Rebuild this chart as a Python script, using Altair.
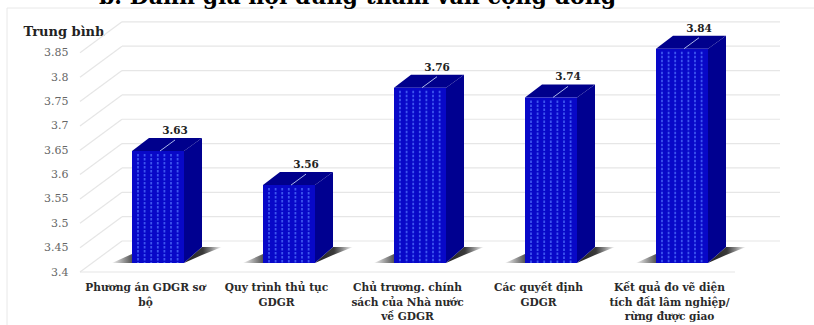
import altair as alt
import pandas as pd

# Survey averages per consultation item
categories = [
    "Phương án GDGR sơ\nbộ",
    "Quy trình thủ tục\nGDGR",
    "Chủ trương. chính\nsách của Nhà nước\nvề GDGR",
    "Các quyết định\nGDGR",
    "Kết quả đo vẽ diện\ntích đất lâm nghiệp/\nrừng được giao",
]
values = [3.63, 3.56, 3.76, 3.74, 3.84]
ticks = [3.4, 3.45, 3.5, 3.55, 3.6, 3.65, 3.7, 3.75, 3.8, 3.85]
title_text = "b. Đánh giá nội dung tham vấn cộng đồng"

BASE = 3.4
X_UNIT = 131.0   # pixels per category slot
Y_UNIT = 487.0   # pixels per unit of the mean score
SERIF = "DejaVu Serif"


def dx(p):
    return p / X_UNIT


def dy(p):
    return p / Y_UNIT


X = alt.X("x:Q", axis=None, scale=alt.Scale(domain=[0, 5], nice=False, zero=False))
Y = alt.Y(
    "y:Q",
    scale=alt.Scale(domain=[3.4, 3.9], nice=False, zero=False),
    axis=alt.Axis(
        values=ticks, domain=False, ticks=False, grid=False, format=".3~f",
        labelFont=SERIF, labelFontSize=11, labelColor="#666666", labelPadding=12,
        title="Trung bình", titleFont=SERIF, titleFontSize=13, titleFontWeight="bold",
        titleColor="#222222", titleAngle=0, titleAlign="left", titleBaseline="middle",
        titleX=-57, titleY=2.5,
    ),
)
X2 = alt.X2("x2:Q")
Y2 = alt.Y2("y2:Q")

# Oblique projection of the chart box: walls and floor
wall_diag, wall_back = [], []
for t in ticks:
    wall_diag += [{"id": t, "x": 0, "y": t}, {"id": t, "x": dx(42), "y": t + dy(31)}]
    wall_back.append({"x": dx(42), "x2": dx(700), "y": t + dy(31)})
floor = [{"x": 0, "x2": 5, "y": BASE}]

grid_color = "#e6e6e6"
diag_layer = alt.Chart(pd.DataFrame(wall_diag)).mark_line(color=grid_color, strokeWidth=1.2).encode(
    x=X, y=Y, detail="id:N"
)
back_layer = alt.Chart(pd.DataFrame(wall_back)).mark_rule(color=grid_color, strokeWidth=1.2).encode(
    x=X, x2=X2, y=Y
)
floor_layer = alt.Chart(pd.DataFrame(floor)).mark_rule(color=grid_color, strokeWidth=1.2).encode(
    x=X, x2=X2, y=Y
)

# Bar solids: front, side and top faces plus floor shadows
BAR_W = 52
front, side, top, dots, leaders, labels, cats = [], [], [], [], [], [], []
shadow_r, shadow_l = [], []
for i, (name, v) in enumerate(zip(categories, values)):
    xl = i + dx(52)
    xr = xl + dx(BAR_W)
    fy = v + dy(9)
    fb = BASE + dy(9)
    front.append({"x": xl, "x2": xr, "y": fy, "y2": fb})
    side += [
        {"b": i, "x": xr, "y": fy, "y2": fb},
        {"b": i, "x": xr + dx(18), "y": fy + dy(13), "y2": fb + dy(16)},
    ]
    top += [
        {"b": i, "x": xl, "y": fy, "y2": fy},
        {"b": i, "x": xl + dx(17), "y": fy + dy(13), "y2": fy},
        {"b": i, "x": xr, "y": fy + dy(13), "y2": fy},
        {"b": i, "x": xr + dx(18), "y": fy + dy(13), "y2": fy + dy(13)},
    ]
    shadow_r += [
        {"b": i, "x": xr, "y": fb, "y2": fb},
        {"b": i, "x": xr + dx(18), "y": fb + dy(16), "y2": fb + dy(8)},
        {"b": i, "x": xr + dx(38), "y": fb + dy(16), "y2": fb + dy(16)},
    ]
    shadow_l += [
        {"b": i, "x": xl - dx(20), "y": fb, "y2": fb},
        {"b": i, "x": xl, "y": fb + dy(9), "y2": fb},
    ]
    for k in range(7):
        dots.append({"x": xl + dx(6 + 6.6 * k), "y": fy - dy(3), "y2": fb})
    leaders += [
        {"b": i, "x": xl + dx(BAR_W / 2 + 2), "y": fy},
        {"b": i, "x": xl + dx(BAR_W / 2 + 17), "y": fy + dy(11)},
    ]
    labels.append({"x": xl + dx(BAR_W / 2 + 17), "y": fy, "t": f"{v:.2f}"})
    cats.append({"x": i + 0.5, "y": BASE, "t": name})

shade_r = alt.Gradient(
    gradient="linear",
    x1=0, x2=1, y1=0, y2=0,
    stops=[
        alt.GradientStop(color="#222222", offset=0),
        alt.GradientStop(color="#3a3a3a", offset=0.5),
        alt.GradientStop(color="#8a8a8a", offset=0.72),
        alt.GradientStop(color="#ffffff", offset=1),
    ],
)
shade_l = alt.Gradient(
    gradient="linear",
    x1=0, x2=1, y1=0, y2=0,
    stops=[
        alt.GradientStop(color="#f4f4f4", offset=0),
        alt.GradientStop(color="#555555", offset=1),
    ],
)
shadow_r_layer = alt.Chart(pd.DataFrame(shadow_r)).mark_area(color=shade_r).encode(
    x=X, y=Y, y2=Y2, detail="b:N"
)
shadow_l_layer = alt.Chart(pd.DataFrame(shadow_l)).mark_area(color=shade_l).encode(
    x=X, y=Y, y2=Y2, detail="b:N"
)
side_layer = alt.Chart(pd.DataFrame(side)).mark_area(color="#000090").encode(
    x=X, y=Y, y2=Y2, detail="b:N"
)
top_layer = alt.Chart(pd.DataFrame(top)).mark_area(color="#00008c").encode(
    x=X, y=Y, y2=Y2, detail="b:N"
)
front_layer = alt.Chart(pd.DataFrame(front)).mark_rect(color="#0808c8").encode(
    x=X, x2=X2, y=Y, y2=Y2
)
dots_layer = alt.Chart(pd.DataFrame(dots)).mark_rule(
    color="#3d55ee", strokeWidth=1.8, strokeDash=[2.5, 1.5]
).encode(x=X, y=Y, y2=Y2)
leader_layer = alt.Chart(pd.DataFrame(leaders)).mark_line(color="#a9b6ea", strokeWidth=1).encode(
    x=X, y=Y, detail="b:N"
)
label_layer = alt.Chart(pd.DataFrame(labels)).mark_text(
    font=SERIF, fontWeight="bold", fontSize=10.5, color="#222222", yOffset=-20
).encode(x=X, y=Y, text="t:N")
cat_layer = alt.Chart(pd.DataFrame(cats)).mark_text(
    font=SERIF, fontWeight="bold", fontSize=10.6, color="#2a2a2a",
    baseline="top", lineBreak="\n", lineHeight=14.6, yOffset=11
).encode(x=X, y=Y, text="t:N")

title_layer = alt.Chart(pd.DataFrame({"x": [2.118], "y": [3.9], "t": [title_text]})).mark_text(
    font=SERIF, fontWeight="bold", fontSize=22, color="#000000", yOffset=-25, baseline="alphabetic"
).encode(x=X, y=Y, text="t:N")

# Faint page frame along the top and left edges
frame_top = alt.Chart(pd.DataFrame({"x": [dx(-73)], "x2": [dx(734)], "y": [3.9 + dy(20.5)]})).mark_rule(
    color="#e8e8e8", strokeWidth=1
).encode(x=X, x2=X2, y=Y)
frame_left = alt.Chart(pd.DataFrame({"x": [dx(-73)], "y": [3.9 + dy(20.5)], "y2": [3.4 - dy(53)]})).mark_rule(
    color="#e8e8e8", strokeWidth=1
).encode(x=X, y=Y, y2=Y2)

chart = alt.layer(
    frame_top, frame_left, diag_layer, back_layer, floor_layer,
    shadow_r_layer, shadow_l_layer, side_layer, top_layer, front_layer, dots_layer,
    leader_layer, label_layer, cat_layer, title_layer,
).properties(
    width=655,
    height=243.5,
    padding={"left": 80, "top": 28.5, "right": 79, "bottom": 53},
    autosize=alt.AutoSizeParams(type="none"),
    background="#ffffff",
).configure_view(stroke=None)

chart.save("out.html", embed_options={"renderer": "svg", "actions": False})
